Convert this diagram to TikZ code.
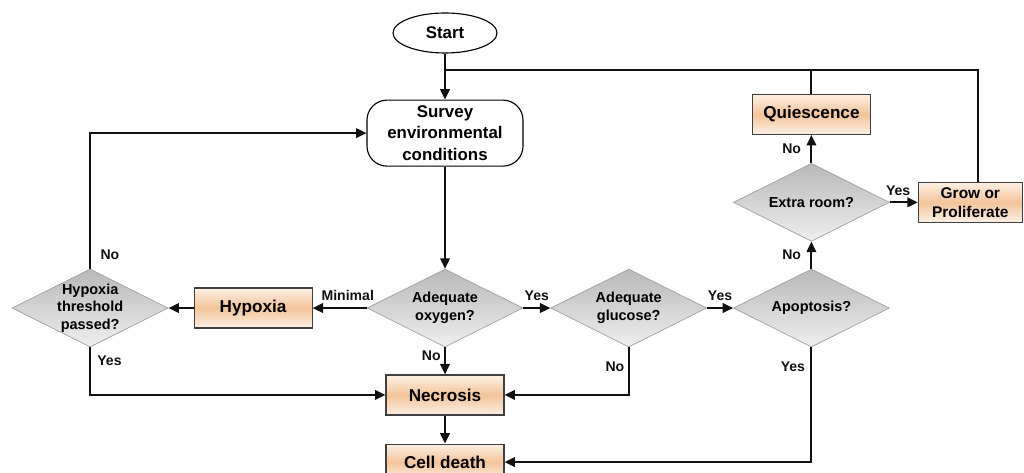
\documentclass[tikz,border=0pt]{standalone}
\usepackage{fontspec}
\setmainfont{Liberation Sans}
\usetikzlibrary{
  arrows.meta,
  shapes.geometric,
  positioning,
  calc
}
\definecolor{cfBoxLight}{HTML}{FCF0E4}
\definecolor{cfBoxMid}{HTML}{F4C49B}
\definecolor{cfDecTop}{HTML}{B8B8B8}
\definecolor{cfDecBot}{HTML}{EFEFEF}
\definecolor{cfDecEdge}{HTML}{A0A0A0}
\definecolor{cfLine}{HTML}{111111}
\tikzset{
  cfnode/.style={
    draw, align=center, inner sep=1pt, font=\bfseries
  },
  terminal/.style={cfnode, ellipse, fill=white, line width=0.8pt,
    minimum width=26mm, minimum height=10mm,
    font=\fontsize{12}{14}\selectfont\bfseries},
  survey/.style={cfnode, rounded corners=5mm, line width=0.8pt,
    minimum width=39mm, minimum height=16.5mm,
    font=\fontsize{12}{15}\selectfont\bfseries},
  statebox/.style={cfnode, rectangle, draw=black!75, line width=0.8pt,
    minimum width=29.5mm, minimum height=10mm,
    top color=cfBoxLight, bottom color=cfBoxLight, middle color=cfBoxMid,
    font=\fontsize{12.2}{14}\selectfont\bfseries},
  decision/.style={cfnode, diamond, aspect=2, draw=cfDecEdge, line width=0.5pt,
    minimum width=39mm, minimum height=19.5mm, inner sep=0pt,
    top color=cfDecTop, bottom color=cfDecBot,
    font=\fontsize{10.3}{13}\selectfont\bfseries},
  flow/.style={-{Triangle[length=2.6mm, width=2.4mm]}, line width=1.4pt, cfLine},
  link/.style={line width=1.4pt, cfLine},
  lab/.style={font=\fontsize{10}{12}\selectfont\bfseries, inner sep=1pt}
}

\begin{document}
\begin{tikzpicture}[x=0.25mm, y=0.25mm, node distance=7mm]
  \useasboundingbox (0,0) rectangle (1024,472);
  % main column
  \node[terminal] (start) at (445,439) {Start};
  \coordinate[below=4mm of start] (join);
  \node[survey, below=11.5mm of start] (survey) {Survey\\environmental\\conditions};
  \node[decision, below=25.5mm of survey] (oxygen) {Adequate\\oxygen?};
  \node[statebox, below=6.75mm of oxygen] (necrosis) {Necrosis};
  \node[statebox, below=7mm of necrosis, minimum height=9mm] (celldeath) {Cell death};
  % left branch
  \node[statebox, left=13.5mm of oxygen] (hypoxia) {Hypoxia};
  \node[decision, left=6.25mm of hypoxia, inner sep=-1.5mm,
    font=\fontsize{10.3}{12.4}\selectfont\bfseries] (thresh) {Hypoxia\\threshold\\passed?};
  % right branch
  \node[decision, right=6.75mm of oxygen] (glucose) {Adequate\\glucose?};
  \node[decision, right=6.5mm of glucose] (apoptosis) {Apoptosis?};
  \node[decision, above=6.75mm of apoptosis] (extra) {Extra room?};
  \node[statebox, above=7mm of extra] (quies) {Quiescence};
  \node[statebox, right=7mm of extra, minimum width=26mm,
    font=\fontsize{11}{13.5}\selectfont\bfseries] (grow) {Grow or\\Proliferate};

  \draw[flow] (start) -- (survey);
  \draw[link] (join) -| ([xshift=2mm]grow.north);
  \draw[link] (quies.north) -- (quies.north |- join);
  \draw[flow] (survey) -- (oxygen);
  \draw[flow] (oxygen) -- node[lab, above=1.2mm, pos=0.35] {Minimal} (hypoxia);
  \draw[flow] (hypoxia) -- (thresh);
  \draw[flow] (thresh.north) |- node[lab, right=2mm, pos=0.05] {No} (survey.west);
  \draw[flow] (thresh.south) |- node[lab, right=1.2mm, pos=0.14] {Yes} (necrosis.west);
  \draw[flow] (oxygen) -- node[lab, left=0.5mm, pos=0.3] {No} (necrosis);
  \draw[flow] (oxygen) -- node[lab, above=1.2mm] {Yes} (glucose);
  \draw[flow] (glucose) -- node[lab, above=1.2mm] {Yes} (apoptosis);
  \draw[flow] (glucose.south) |- node[lab, left=0.5mm, pos=0.2] {No} (necrosis.east);
  \draw[flow] (necrosis) -- (celldeath);
  \draw[flow] (apoptosis.south) |- node[lab, left=1mm, pos=0.085] {Yes} (celldeath.east);
  \draw[flow] (apoptosis) -- node[lab, left=2mm] {No} (extra);
  \draw[flow] (extra) -- node[lab, left=2mm] {No} (quies);
  \draw[flow] (extra) -- node[lab, above=1.2mm, pos=0.3] {Yes} (grow);
\end{tikzpicture}
\end{document}
